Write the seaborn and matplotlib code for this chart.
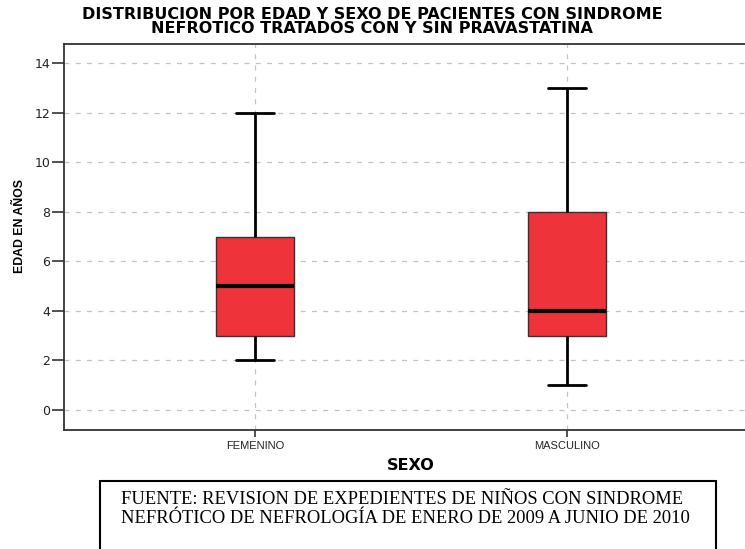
import matplotlib
matplotlib.use("Agg")
import matplotlib.pyplot as plt
import seaborn as sns
import pandas as pd
from matplotlib.patches import Rectangle

# Five-number summaries (min, Q1, median, Q3, max) of patient age by sex
sexo = ["FEMENINO", "MASCULINO"]
edad_femenino = [2, 3, 5, 7, 12]
edad_masculino = [1, 3, 4, 8, 13]
y_ticks = [0, 2, 4, 6, 8, 10, 12, 14]

df = pd.DataFrame({
    "SEXO": [sexo[0]] * len(edad_femenino) + [sexo[1]] * len(edad_masculino),
    "EDAD": edad_femenino + edad_masculino,
})

sns.set_theme(style="white")
plt.rcParams["font.family"] = ["DejaVu Sans"]
plt.rcParams["text.color"] = "black"
plt.rcParams["axes.labelcolor"] = "black"

fig = plt.figure(figsize=(7.45, 5.49), dpi=100)
ax = fig.add_axes([64 / 745, (549 - 430) / 549, (758 - 64) / 745, (430 - 44) / 549])

red = "#EE333A"
sns.boxplot(
    data=df, x="SEXO", y="EDAD", order=sexo, ax=ax,
    width=0.247, color=red, saturation=1, showfliers=False, whis=10,
    boxprops=dict(facecolor=red, edgecolor="#333333", linewidth=1.0),
    whiskerprops=dict(color="black", linewidth=2.0),
    capprops=dict(color="black", linewidth=2.0),
    medianprops=dict(color="black", linewidth=3.0),
)

ax.set_xlim(-0.612, 1.612)
ax.set_ylim(-0.807, 14.77)
ax.set_yticks(y_ticks)
ax.set_yticklabels([str(t) for t in y_ticks])

# dashed reference grid behind the boxes
ax.set_axisbelow(True)
ax.grid(True, axis="both", linestyle=(0, (4, 5)), color="#c4c4c4", linewidth=0.9)

for side in ["left", "bottom", "top"]:
    ax.spines[side].set_visible(True)
    ax.spines[side].set_color("#333333")
    ax.spines[side].set_linewidth(1.3)
ax.spines["right"].set_visible(False)

ax.tick_params(axis="y", which="major", left=True, length=9, width=1.2,
               color="#333333", labelsize=9, pad=1, labelcolor="#222222")
ax.tick_params(axis="x", which="major", bottom=True, length=5, width=1.2,
               color="#333333", labelsize=8, pad=3, labelcolor="#222222")
for lab in ax.get_xticklabels():
    lab.set_family(["Liberation Sans", "DejaVu Sans"])

ax.set_xlabel("SEXO", fontsize=11.5, fontweight="bold", labelpad=5)
ax.set_ylabel("EDAD EN AÑOS", fontsize=8.8, fontweight="bold",
              family="Liberation Sans")
ax.yaxis.set_label_coords(-0.055, 0.528)

fig.text(372 / 745, 1 - 7 / 549,
         "DISTRIBUCION POR EDAD Y SEXO DE PACIENTES CON SINDROME\n"
         "NEFROTICO TRATADOS CON Y SIN PRAVASTATINA",
         ha="center", va="top", fontsize=11.5, fontweight="bold",
         linespacing=0.92)

# source note framed below the chart
fig.patches.append(Rectangle((100 / 745, -0.05), (716 - 100) / 745,
                             (549 - 481) / 549 + 0.05,
                             transform=fig.transFigure, fill=False,
                             edgecolor="black", linewidth=1.5))
fig.text(121 / 745, 1 - 491 / 549,
         "FUENTE: REVISION DE EXPEDIENTES DE NIÑOS CON SINDROME\n"
         "NEFRÓTICO DE NEFROLOGÍA DE ENERO DE 2009 A JUNIO DE 2010",
         ha="left", va="top", fontsize=13.3, family="Liberation Serif",
         linespacing=1.15)

fig.savefig("out.png", dpi=100)
